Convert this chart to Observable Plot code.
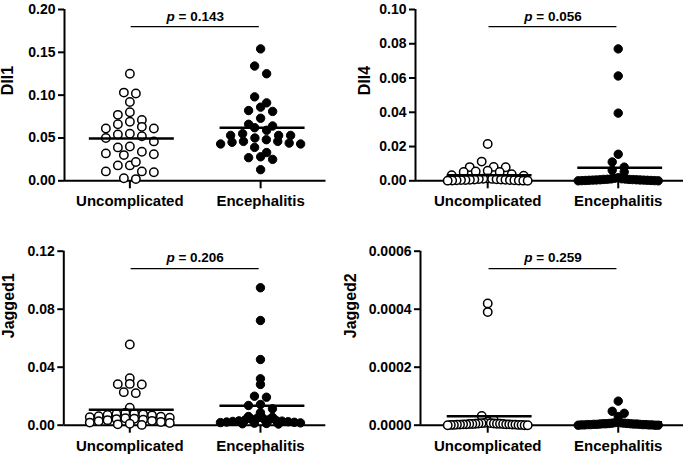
<!DOCTYPE html>
<html><head><meta charset="utf-8">
<script src="https://cdn.jsdelivr.net/npm/d3@7"></script>
<script src="https://cdn.jsdelivr.net/npm/@observablehq/plot@0.6"></script>
<style>
body{margin:0;background:#fff;}
#chart{position:relative;width:685px;height:457px;}
#chart svg{position:absolute;overflow:visible;}
</style></head><body><div id="chart"></div>
<script>
const groups = ["Uncomplicated", "Encephalitis"];

const dll1Uncomplicated = [0.125, 0.103, 0.102, 0.092, 0.080, 0.077, 0.071, 0.066, 0.063, 0.069, 0.061, 0.061, 0.054, 0.050, 0.052, 0.055, 0.046, 0.039, 0.040, 0.030, 0.032, 0.034, 0.031, 0.018, 0.018, 0.022, 0.011, 0.010, 0.011, 0.002, 0.003];
const dll1Encephalitis = [0.154, 0.134, 0.125, 0.098, 0.091, 0.086, 0.081, 0.082, 0.073, 0.066, 0.062, 0.059, 0.064, 0.055, 0.053, 0.053, 0.053, 0.050, 0.048, 0.046, 0.043, 0.044, 0.043, 0.045, 0.046, 0.039, 0.033, 0.027, 0.028, 0.025, 0.013];

const dll4Uncomplicated = [0.0215, 0.0112, 0.0080, 0.0079, 0.0081, 0.0059, 0.0054, 0.0051, 0.0052, 0.0038, 0.0030, 0.0033, 0.0014, 0.0012, 0.0011, 0.0010, 0.0009, 0.0008, 0.0007, 0.0006, 0.0006, 0.0005, 0.0004, 0.0004, 0.0003, 0.0003, 0.0002, 0.0002, 0.0001, 0.0001, 0.0000];
const dll4Encephalitis = [0.0770, 0.0612, 0.0395, 0.0155, 0.0110, 0.0080, 0.0062, 0.0052, 0.0018, 0.0015, 0.0012, 0.0011, 0.0010, 0.0009, 0.0008, 0.0008, 0.0007, 0.0006, 0.0006, 0.0005, 0.0005, 0.0004, 0.0004, 0.0003, 0.0003, 0.0002, 0.0002, 0.0001, 0.0001, 0.0000, 0.0000];

const jagged1Uncomplicated = [0.0557, 0.0324, 0.0285, 0.0281, 0.0283, 0.0221, 0.0228, 0.0120, 0.0085, 0.0080, 0.0078, 0.0075, 0.0070, 0.0068, 0.0062, 0.0058, 0.0055, 0.0052, 0.0048, 0.0045, 0.0042, 0.0038, 0.0035, 0.0030, 0.0028, 0.0022, 0.0018, 0.0015, 0.0010, 0.0006, 0.0002];
const jagged1Encephalitis = [0.0948, 0.0722, 0.0453, 0.0320, 0.0281, 0.0193, 0.0200, 0.0136, 0.0143, 0.0113, 0.0086, 0.0060, 0.0055, 0.0050, 0.0045, 0.0042, 0.0040, 0.0036, 0.0034, 0.0030, 0.0028, 0.0026, 0.0024, 0.0022, 0.0020, 0.0018, 0.0016, 0.0014, 0.0012, 0.0010, 0.0008];

const jagged2Uncomplicated = [0.00042, 0.00039, 0.000032, 0.000018, 0.000012, 0.000008, 0.000007, 0.000007, 0.000006, 0.000006, 0.000005, 0.000005, 0.000005, 0.000004, 0.000004, 0.000004, 0.000003, 0.000003, 0.000003, 0.000003, 0.000002, 0.000002, 0.000002, 0.000002, 0.000001, 0.000001, 0.000001, 0.000001, 0, 0, 0];
const jagged2Encephalitis = [0.000083, 0.000048, 0.000041, 0.000030, 0.000010, 0.000009, 0.000008, 0.000007, 0.000007, 0.000006, 0.000006, 0.000005, 0.000005, 0.000005, 0.000004, 0.000004, 0.000004, 0.000003, 0.000003, 0.000003, 0.000002, 0.000002, 0.000002, 0.000002, 0.000001, 0.000001, 0.000001, 0.000001, 0, 0, 0];

const yLabels = ["Dll1", "Dll4", "Jagged1", "Jagged2"];
const pValues = ["0.143", "0.056", "0.206", "0.259"];
const yTickValues = [
  [0, 0.05, 0.10, 0.15, 0.20],
  [0, 0.02, 0.04, 0.06, 0.08, 0.10],
  [0, 0.04, 0.08, 0.12],
  [0, 0.0002, 0.0004, 0.0006]
];
const yTickFormats = [".2f", ".2f", ".2f", ".4f"];
const seriesData = [
  [dll1Uncomplicated, dll1Encephalitis],
  [dll4Uncomplicated, dll4Encephalitis],
  [jagged1Uncomplicated, jagged1Encephalitis],
  [jagged2Uncomplicated, jagged2Encephalitis]
];

// layout per panel
const layout = [
  {left: 0,   top: 2,   width: 340, height: 226, mL: 64, mR: 14.5, mT: 7,    mB: 47.7, xMin: -0.5,   labelX: 7,  bin: 8},
  {left: 340, top: 2,   width: 345, height: 226, mL: 75, mR: 2,    mT: 7,    mB: 47.7, xMin: -0.553, labelX: 24, bin: 6},
  {left: 0,   top: 228, width: 340, height: 229, mL: 63.3, mR: 14.7, mT: 22.7, mB: 32.3, xMin: -0.505, labelX: 8, bin: 5},
  {left: 340, top: 228, width: 345, height: 229, mL: 80, mR: 2,    mT: 22.7, mB: 32.3, xMin: -0.515, labelX: 10, bin: 5}
];
const X_MAX = 1.5;

function swarmOffsets(values, pxPerVal, spacing, maxHalf, binPx) {
  const order = d3.range(values.length).sort((a, b) => d3.descending(values[a], values[b]));
  const rows = []; let cur = null;
  for (const i of order) {
    if (cur && (values[cur[0]] - values[i]) * pxPerVal < binPx) cur.push(i);
    else { cur = [i]; rows.push(cur); }
  }
  const off = new Array(values.length).fill(0);
  for (const row of rows) {
    const n = row.length;
    const s = n > 1 ? Math.min(spacing, 2 * maxHalf / (n - 1)) : 0;
    const pos = d3.range(n).map(j => (j - (n - 1) / 2) * s)
      .sort((a, b) => Math.abs(a) - Math.abs(b) || a - b);
    row.forEach((i, k) => off[i] = pos[k]);
  }
  return off;
}

const chart = document.getElementById("chart");
const font = "'Liberation Sans', Arial, Helvetica, sans-serif";

yLabels.forEach((label, p) => {
  const L = layout[p];
  const yTicks = yTickValues[p];
  const yMax = yTicks[yTicks.length - 1];
  const pxPerUnit = (L.width - L.mL - L.mR) / (X_MAX - L.xMin);
  const pxPerVal = (L.height - L.mT - L.mB) / yMax;
  const points = [];
  const means = [];
  seriesData[p].forEach((values, g) => {
    const off = swarmOffsets(values, pxPerVal, 12, 40, L.bin);
    values.forEach((v, i) => points.push({g, v, x: g + off[i] / pxPerUnit}));
    means.push({g, m: d3.mean(values), x1: g - 0.31, x2: g + 0.34});
  });
  const svg = Plot.plot({
    width: L.width, height: L.height,
    marginLeft: L.mL, marginRight: L.mR, marginTop: L.mT, marginBottom: L.mB,
    style: {fontFamily: font, fontWeight: "bold", color: "#000", background: "transparent", fontSize: "15px"},
    x: {domain: [L.xMin, X_MAX], axis: null},
    y: {domain: [0, yMax], axis: null},
    marks: [
      Plot.ruleY([{y: 0, x1: L.xMin, x2: X_MAX}], {y: "y", x1: "x1", x2: "x2", strokeWidth: 2}),
      Plot.ruleX([{x: L.xMin, y1: 0, y2: yMax}], {x: "x", y1: "y1", y2: "y2", strokeWidth: 2}),
      Plot.axisY({ticks: yTicks, tickFormat: yTickFormats[p], tickSize: 6, tickPadding: 3, strokeWidth: 2, fontSize: 14, label: null}),
      Plot.axisX({ticks: [0, 1], tickFormat: i => groups[i], tickSize: 8, tickPadding: 7, strokeWidth: 2, fontSize: 15, label: null}),
      Plot.dot(points.filter(d => d.g === 0), {x: "x", y: "v", r: 4.2, fill: "white", stroke: "black", strokeWidth: 1.5}),
      Plot.dot(points.filter(d => d.g === 1), {x: "x", y: "v", r: 4.2, fill: "black", stroke: "black", strokeWidth: 1}),
      Plot.ruleY(means, {y: "m", x1: "x1", x2: "x2", strokeWidth: 2.5}),
      Plot.ruleY([{y: yMax * 0.9, x1: 0.01, x2: 0.99}], {y: "y", x1: "x1", x2: "x2", strokeWidth: 1.2}),
      Plot.text([{x: 0.5, y: yMax * 0.96, t: "p = " + pValues[p]}], {x: "x", y: "y", text: "t", fontSize: 13.5}),
      Plot.text([label], {frameAnchor: "left", text: d => d, dx: L.labelX - L.mL, rotate: -90, fontSize: 16})
    ]
  });
  svg.style.left = L.left + "px";
  svg.style.top = L.top + "px";
  svg.querySelectorAll("text").forEach(t => {
    if (t.textContent.startsWith("p = ")) {
      const rest = t.textContent.slice(1);
      t.textContent = "";
      const ts = document.createElementNS("http://www.w3.org/2000/svg", "tspan");
      ts.setAttribute("font-style", "italic");
      ts.textContent = "p";
      t.appendChild(ts);
      t.appendChild(document.createTextNode(rest));
    }
  });
  chart.appendChild(svg);
});
</script></body></html>
